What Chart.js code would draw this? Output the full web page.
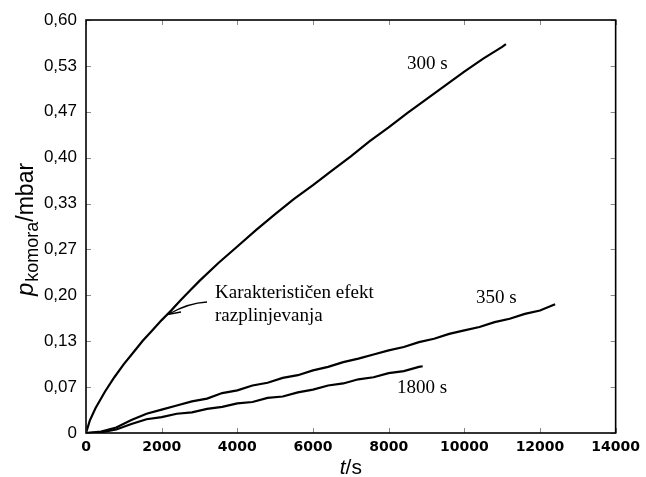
<!DOCTYPE html>
<html>
<head>
<meta charset="utf-8">
<script src="https://cdn.jsdelivr.net/npm/chart.js@4.4.1/dist/chart.umd.min.js"></script>
<style>
  html, body { margin: 0; padding: 0; background: #fff; }
  canvas { display: block; }
</style>
</head>
<body>
<canvas id="chart" width="646" height="477"></canvas>
<script>
// Data (t in s, p in mbar)
const t300 = [0, 100, 250, 500, 750, 1000, 1250, 1500, 1750, 2000, 2250, 2500, 2750, 3000, 3500, 4000, 4500, 5000, 5500, 6000, 6500, 7000, 7500, 8000, 8500, 9000, 9500, 10000, 10500, 11000, 11100];
const p300 = [0, 0.018, 0.036, 0.060, 0.081, 0.100, 0.117, 0.134, 0.149, 0.164, 0.178, 0.193, 0.207, 0.221, 0.247, 0.271, 0.295, 0.318, 0.340, 0.360, 0.381, 0.402, 0.424, 0.444, 0.465, 0.485, 0.505, 0.525, 0.544, 0.561, 0.565];

const t350 = [0, 400, 800, 1200, 1600, 2000, 2400, 2800, 3200, 3600, 4000, 4400, 4800, 5200, 5600, 6000, 6400, 6800, 7200, 7600, 8000, 8400, 8800, 9200, 9600, 10000, 10400, 10800, 11200, 11600, 12000, 12400];
const p350 = [0, 0.002, 0.008, 0.019, 0.028, 0.034, 0.040, 0.046, 0.050, 0.058, 0.062, 0.069, 0.073, 0.080, 0.084, 0.091, 0.096, 0.103, 0.108, 0.114, 0.120, 0.125, 0.132, 0.137, 0.144, 0.149, 0.154, 0.161, 0.166, 0.173, 0.178, 0.187];

const t1800 = [0, 400, 800, 1200, 1600, 2000, 2400, 2800, 3200, 3600, 4000, 4400, 4800, 5200, 5600, 6000, 6400, 6800, 7200, 7600, 8000, 8400, 8800, 8900];
const p1800 = [0, 0.001, 0.005, 0.013, 0.020, 0.023, 0.028, 0.030, 0.035, 0.038, 0.043, 0.045, 0.051, 0.053, 0.059, 0.063, 0.069, 0.072, 0.078, 0.081, 0.087, 0.090, 0.096, 0.097];

const xTicks = [0, 2000, 4000, 6000, 8000, 10000, 12000, 14000];
const yTicks = [0, 0.0667, 0.1333, 0.2, 0.2667, 0.3333, 0.4, 0.4667, 0.5333, 0.6];
const yTickLabels = ['0', '0,07', '0,13', '0,20', '0,27', '0,33', '0,40', '0,47', '0,53', '0,60'];

function toPoints(ts, ps) {
  return ts.map((t, i) => ({ x: t, y: ps[i] }));
}

function line(ts, ps) {
  return {
    data: toPoints(ts, ps),
    borderColor: '#000',
    borderWidth: 2.2,
    pointRadius: 0,
    tension: 0,
    fill: false
  };
}

// frame, inward ticks, titles and annotations
const decor = {
  id: 'decor',
  afterDraw(chart) {
    const ctx = chart.ctx;
    const a = chart.chartArea;
    const xs = chart.scales.x, ys = chart.scales.y;
    ctx.save();

    ctx.strokeStyle = '#888';
    ctx.lineWidth = 1;
    xTicks.forEach(v => {
      const px = Math.round(xs.getPixelForValue(v)) + 0.5;
      ctx.beginPath();
      ctx.moveTo(px, a.bottom); ctx.lineTo(px, a.bottom - 5);
      ctx.moveTo(px, a.top); ctx.lineTo(px, a.top + 5);
      ctx.stroke();
    });
    yTicks.forEach(v => {
      const py = Math.round(ys.getPixelForValue(v)) + 0.5;
      ctx.beginPath();
      ctx.moveTo(a.left, py); ctx.lineTo(a.left + 5, py);
      ctx.moveTo(a.right, py); ctx.lineTo(a.right - 5, py);
      ctx.stroke();
    });

    ctx.strokeStyle = '#000';
    ctx.lineWidth = 1.6;
    ctx.strokeRect(a.left, a.top, a.right - a.left, a.bottom - a.top);

    ctx.fillStyle = '#000';
    ctx.textBaseline = 'alphabetic';

    // y title: p_komora/mbar
    ctx.save();
    ctx.translate(33, 230);
    ctx.rotate(-Math.PI / 2);
    const fMain = '23px "Liberation Sans", Arial, sans-serif';
    const fIt = 'italic 24px "Liberation Sans", Arial, sans-serif';
    const fSub = '18px "Liberation Sans", Arial, sans-serif';
    ctx.font = fIt; const wp = ctx.measureText('p').width;
    ctx.font = fSub; const wk = ctx.measureText('komora').width;
    ctx.font = fMain; const wm = ctx.measureText('/mbar').width;
    let x0 = -(wp + wk + wm) / 2;
    ctx.textAlign = 'left';
    ctx.font = fIt; ctx.fillText('p', x0, 0); x0 += wp + 1;
    ctx.font = fSub; ctx.fillText('komora', x0, 5); x0 += wk;
    ctx.font = fMain; ctx.fillText('/mbar', x0, 0);
    ctx.restore();

    // x title: t/s
    ctx.font = 'italic 21px "Liberation Sans", Arial, sans-serif';
    const wt = ctx.measureText('t').width;
    ctx.font = '21px "Liberation Sans", Arial, sans-serif';
    const ws = ctx.measureText('/s').width;
    const cx = (a.left + a.right) / 2 - (wt + ws) / 2;
    ctx.textAlign = 'left';
    ctx.font = 'italic 21px "Liberation Sans", Arial, sans-serif';
    ctx.fillText('t', cx, 474);
    ctx.font = '21px "Liberation Sans", Arial, sans-serif';
    ctx.fillText('/s', cx + wt, 474);

    // curve labels
    ctx.font = '19px "Liberation Serif", "Times New Roman", serif';
    ctx.fillText('300 s', 407, 69);
    ctx.fillText('350 s', 476, 303);
    ctx.fillText('1800 s', 397, 393);
    ctx.fillText('Karakterističen efekt', 215, 298);
    ctx.fillText('razplinjevanja', 215, 321);

    // arrow
    ctx.lineWidth = 1.3;
    ctx.beginPath();
    ctx.moveTo(207, 302);
    ctx.quadraticCurveTo(188, 303, 169, 314);
    ctx.stroke();
    ctx.beginPath();
    ctx.moveTo(177, 304);
    ctx.lineTo(168, 314.5);
    ctx.lineTo(181, 312);
    ctx.stroke();

    ctx.restore();
  }
};

new Chart(document.getElementById('chart'), {
  type: 'line',
  data: {
    datasets: [line(t300, p300), line(t350, p350), line(t1800, p1800)]
  },
  options: {
    responsive: false,
    animation: false,
    layout: { padding: { left: 6, right: 24, top: 20, bottom: 0 } },
    plugins: { legend: { display: false }, tooltip: { enabled: false } },
    scales: {
      x: {
        type: 'linear',
        min: 0,
        max: 14000,
        afterBuildTicks: s => { s.ticks = xTicks.map(v => ({ value: v })); },
        afterFit: s => { s.height = 44; },
        grid: { display: false, drawTicks: false },
        border: { display: false },
        ticks: {
          color: '#000',
          padding: 6,
          maxRotation: 0,
          font: { family: '"DejaVu Sans", sans-serif', size: 14, weight: 'bold' },
          callback: v => String(v)
        }
      },
      y: {
        type: 'linear',
        min: 0,
        max: 0.6,
        afterBuildTicks: s => { s.ticks = yTicks.map(v => ({ value: v })); },
        afterFit: s => { s.width = 80; },
        grid: { display: false, drawTicks: false },
        border: { display: false },
        ticks: {
          color: '#000',
          padding: 9,
          font: { family: '"Liberation Sans", Arial, sans-serif', size: 17 },
          callback: (v, i) => yTickLabels[i]
        }
      }
    }
  },
  plugins: [decor]
});
</script>
</body>
</html>
